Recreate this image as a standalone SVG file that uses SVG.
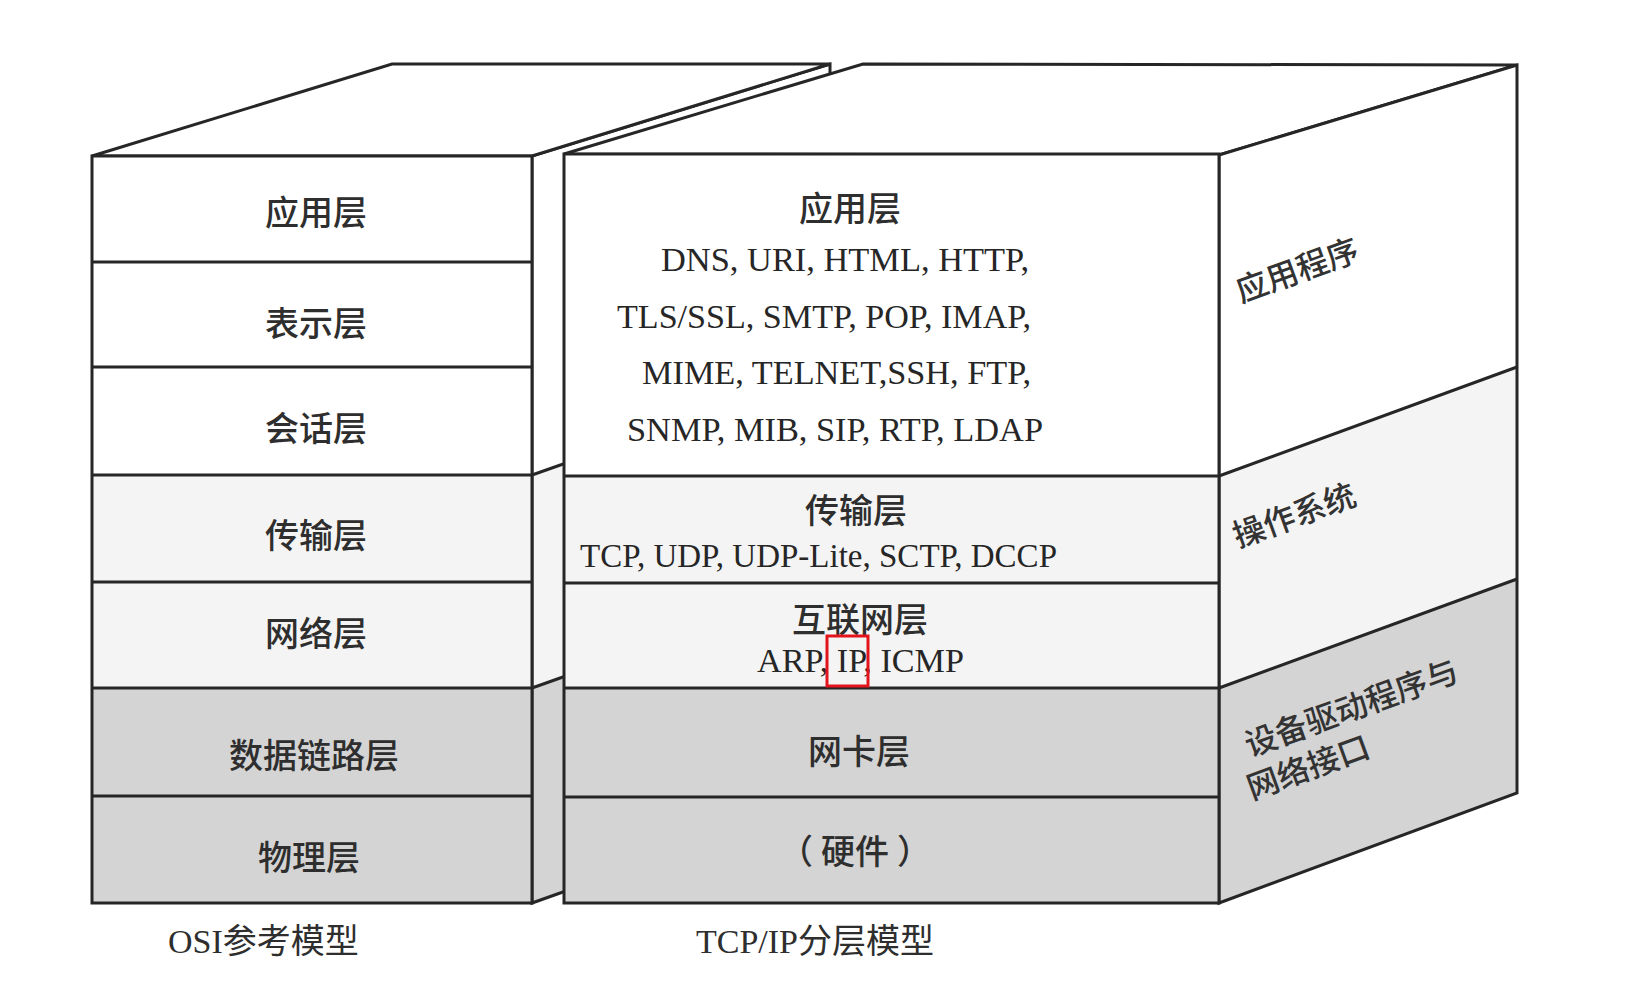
<svg xmlns="http://www.w3.org/2000/svg" width="1646" height="986" viewBox="0 0 1646 986">
  <style>
    .edge { fill: none; stroke: #262626; stroke-width: 3; stroke-linejoin: miter; }
    .white { fill: #ffffff; }
    .light { fill: #f4f4f4; }
    .gray { fill: #d4d4d4; }
    .cjk { font-family: "Noto Sans CJK SC", "Noto Sans CJK TC", sans-serif; font-size: 34px; font-weight: 500; fill: #2e2e2e; text-anchor: middle; dominant-baseline: central; }
    .lat { font-family: "Liberation Serif", "Times New Roman", serif; font-size: 33px; fill: #262626; }
    .foot { font-family: "Liberation Serif", "Noto Sans CJK SC", serif; font-size: 34px; fill: #2e2e2e; }
    .side { font-family: "Noto Sans CJK SC", sans-serif; font-size: 32px; font-weight: 500; fill: #333333; }
    .mark { fill: none; stroke: #e3141b; stroke-width: 3; }
  </style>
  <rect width="1646" height="986" fill="#ffffff"/>

  <!-- OSI model box -->
  <g id="osi-box">
    <!-- side face (mostly hidden) -->
    <polygon class="white" points="532,156 830,64 830,370 532,475"/>
    <polygon class="light" points="532,475 830,370 830,582 532,688"/>
    <polygon class="gray" points="532,688 830,582 830,797 532,903"/>
    <polyline class="edge" points="532,475 830,370"/>
    <polyline class="edge" points="532,688 830,582"/>
    <polygon class="edge" points="532,156 830,64 830,797 532,903"/>
    <!-- top face -->
    <polygon class="white" points="92,156 392,64 830,64 532,156"/>
    <polygon class="edge" points="92,156 392,64 830,64 532,156"/>
    <!-- front face -->
    <rect class="white" x="92" y="156" width="440" height="319"/>
    <rect class="light" x="92" y="475" width="440" height="213"/>
    <rect class="gray" x="92" y="688" width="440" height="215"/>
    <rect class="edge" x="92" y="156" width="440" height="747"/>
  </g>
  <g id="osi-layers">
    <line class="edge" x1="92" y1="262" x2="532" y2="262"/>
    <line class="edge" x1="92" y1="367" x2="532" y2="367"/>
    <line class="edge" x1="92" y1="475" x2="532" y2="475"/>
    <line class="edge" x1="92" y1="582" x2="532" y2="582"/>
    <line class="edge" x1="92" y1="688" x2="532" y2="688"/>
    <line class="edge" x1="92" y1="796" x2="532" y2="796"/>
  </g>
  <g id="osi-app"><text class="cjk" x="316" y="210">应用层</text></g>
  <g id="osi-presentation"><text class="cjk" x="316" y="321">表示层</text></g>
  <g id="osi-session"><text class="cjk" x="316" y="426">会话层</text></g>
  <g id="osi-transport"><text class="cjk" x="316" y="533">传输层</text></g>
  <g id="osi-network"><text class="cjk" x="316" y="631">网络层</text></g>
  <g id="osi-datalink"><text class="cjk" x="314" y="753">数据链路层</text></g>
  <g id="osi-physical"><text class="cjk" x="309" y="855">物理层</text></g>
  <g id="osi-caption"><text class="foot" x="168" y="953">OSI参考模型</text></g>

  <!-- TCP/IP model box -->
  <g id="tcpip-box">
    <!-- top face -->
    <polygon class="white" points="564,154 863,64 1517,65 1219,155"/>
    <polygon class="edge" points="564,154 863,64 1517,65 1219,155"/>
    <!-- side face -->
    <polygon class="white" points="1219,155 1517,65 1517,367 1219,476"/>
    <polygon class="light" points="1219,476 1517,367 1517,579 1219,688"/>
    <polygon class="gray" points="1219,688 1517,579 1517,793 1219,903"/>
    <polyline class="edge" points="1219,476 1517,367"/>
    <polyline class="edge" points="1219,688 1517,579"/>
    <polygon class="edge" points="1219,155 1517,65 1517,793 1219,903"/>
    <!-- front face -->
    <rect class="white" x="564" y="154" width="655" height="322"/>
    <rect class="light" x="564" y="476" width="655" height="212"/>
    <rect class="gray" x="564" y="688" width="655" height="215"/>
    <rect class="edge" x="564" y="154" width="655" height="749"/>
  </g>
  <g id="tcpip-layers">
    <line class="edge" x1="564" y1="476" x2="1219" y2="476"/>
    <line class="edge" x1="564" y1="583" x2="1219" y2="583"/>
    <line class="edge" x1="564" y1="688" x2="1219" y2="688"/>
    <line class="edge" x1="564" y1="797" x2="1219" y2="797"/>
  </g>
  <g id="tcpip-app">
    <text class="cjk" x="850" y="206">应用层</text>
    <text class="lat" x="661" y="271" textLength="368" lengthAdjust="spacingAndGlyphs">DNS, URI, HTML, HTTP,</text>
    <text class="lat" x="617" y="328" textLength="414" lengthAdjust="spacingAndGlyphs">TLS/SSL, SMTP, POP, IMAP,</text>
    <text class="lat" x="642" y="384" textLength="389" lengthAdjust="spacingAndGlyphs">MIME, TELNET,SSH, FTP,</text>
    <text class="lat" x="627" y="441" textLength="416" lengthAdjust="spacingAndGlyphs">SNMP, MIB, SIP, RTP, LDAP</text>
  </g>
  <g id="tcpip-transport">
    <text class="cjk" x="856" y="508">传输层</text>
    <text class="lat" x="580" y="567" textLength="477" lengthAdjust="spacingAndGlyphs">TCP, UDP, UDP-Lite, SCTP, DCCP</text>
  </g>
  <g id="tcpip-internet">
    <text class="cjk" x="860" y="617">互联网层</text>
    <text class="lat" x="757" y="672" textLength="207" lengthAdjust="spacingAndGlyphs">ARP, IP, ICMP</text>
    <rect class="mark" x="827" y="636" width="41" height="50"/>
  </g>
  <g id="tcpip-nic"><text class="cjk" x="859" y="749">网卡层</text></g>
  <g id="tcpip-hardware"><text class="cjk" x="855" y="849">（<tspan dx="8">硬件</tspan><tspan dx="8">）</tspan></text></g>
  <g id="tcpip-caption"><text class="foot" x="696" y="953">TCP/IP分层模型</text></g>

  <!-- side face labels -->
  <g id="side-app"><text class="side" transform="translate(1241,303) rotate(-20)">应用程序</text></g>
  <g id="side-os"><text class="side" transform="translate(1238,548) rotate(-20)">操作系统</text></g>
  <g id="side-driver">
    <text class="side" transform="translate(1250,757) rotate(-20)">设备驱动程序与</text>
    <text class="side" transform="translate(1252,800) rotate(-20)">网络接口</text>
  </g>
</svg>
